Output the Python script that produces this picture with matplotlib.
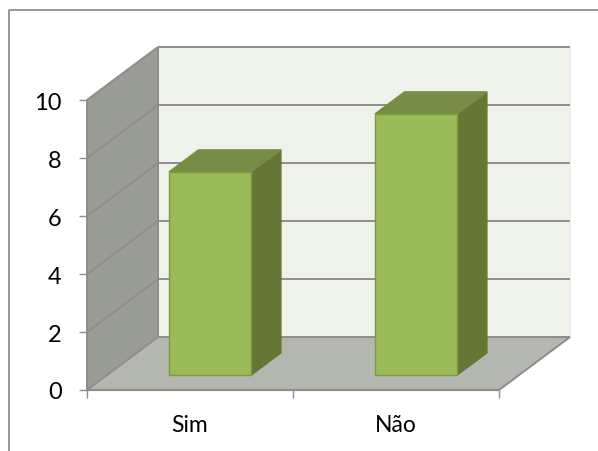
import matplotlib
matplotlib.use('Agg')
import matplotlib.pyplot as plt
from matplotlib.lines import Line2D

plt.rcParams['font.family'] = ['Lato', 'DejaVu Sans']

categories = ['Sim', 'Não']
values = [7, 9]
y_ticks = [0, 2, 4, 6, 8, 10]

W, H = 598, 452
# oblique projection: a point at depth d (0 front, 1 back) moves right and up
DX = 71 / 206
DY = 53 / 29
BAR_W = 0.4
D0, D1 = 0.285, 0.70

WALL = '#9a9c96'
FLOOR = '#b4b6b0'
BACK = '#eff1eb'
GRID = '#8e8e8e'
FRONT = '#9bbb59'
TOP = '#778c45'
SIDE = '#647735'
EDGE = '#7b9a42'


def proj(x, v, d):
    return x + d * DX, v + d * DY


def face(ax, pts, color, edge=None, z=1):
    xs, ys = zip(*[proj(*p) for p in pts])
    ax.fill(xs, ys, facecolor=color, edgecolor=edge or color,
            linewidth=1.0, zorder=z, clip_on=False)


def seg(ax, a, b, z=2, lw=1.4):
    xs, ys = zip(proj(*a), proj(*b))
    ax.plot(xs, ys, color=GRID, linewidth=lw, zorder=z, clip_on=False,
            solid_capstyle='butt')


fig = plt.figure(figsize=(W / 100, H / 100), dpi=100)

# outer chart frame, open on the right and bottom
fig.add_artist(Line2D([8.5 / W, 8.5 / W, 1], [0, 1 - 11 / H, 1 - 11 / H],
                      color='#8e8e8e', linewidth=1.3))

ax = fig.add_axes([87 / W, (H - 391) / H, 484 / W, 343 / H])
ax.set_xlim(0, 484 / 206)
ax.set_ylim(0, 343 / 29)
ax.patch.set_visible(False)
for s in ax.spines.values():
    s.set_visible(False)

# walls and floor
face(ax, [(0, 0, 1), (2, 0, 1), (2, 10, 1), (0, 10, 1)], BACK)
face(ax, [(0, 0, 0), (0, 0, 1), (0, 10, 1), (0, 10, 0)], WALL)
face(ax, [(0, 0, 0), (2, 0, 0), (2, 0, 1), (0, 0, 1)], FLOOR)

# gridlines on the side and back walls
for t in y_ticks:
    seg(ax, (0, t, 0), (0, t, 1))
    seg(ax, (0, t, 1), (2, t, 1))
seg(ax, (0, 0, 0), (0, 10, 0), z=3)
seg(ax, (0, 0, 1), (0, 10, 1))
seg(ax, (0, 0, 0), (2, 0, 0), z=3, lw=1.6)
seg(ax, (2, 0, 0), (2, 0, 1), z=3)

# bars
for i, v in enumerate(values):
    x0 = i + 0.5 - BAR_W / 2
    x1 = i + 0.5 + BAR_W / 2
    face(ax, [(x1, 0, D0), (x1, 0, D1), (x1, v, D1), (x1, v, D0)], SIDE, z=5)
    face(ax, [(x0, v, D0), (x1, v, D0), (x1, v, D1), (x0, v, D1)], TOP, z=5)
    face(ax, [(x0, 0, D0), (x1, 0, D0), (x1, v, D0), (x0, v, D0)], FRONT, EDGE, z=6)

ax.set_yticks(y_ticks)
ax.set_xticks([0, 1, 2])
ax.set_xticklabels([])
ax.set_xticks([0.5, 1.5], minor=True)
ax.set_xticklabels(categories, minor=True)
ax.tick_params(axis='y', length=5.8, width=1, color=GRID, pad=12.5, labelsize=17, labelcolor='black')
ax.tick_params(axis='x', which='major', length=5.8, width=1, color=GRID)
ax.tick_params(axis='x', which='minor', length=0, pad=17.5, labelsize=16.5, labelcolor='black')

fig.savefig('out.png', dpi=100)
